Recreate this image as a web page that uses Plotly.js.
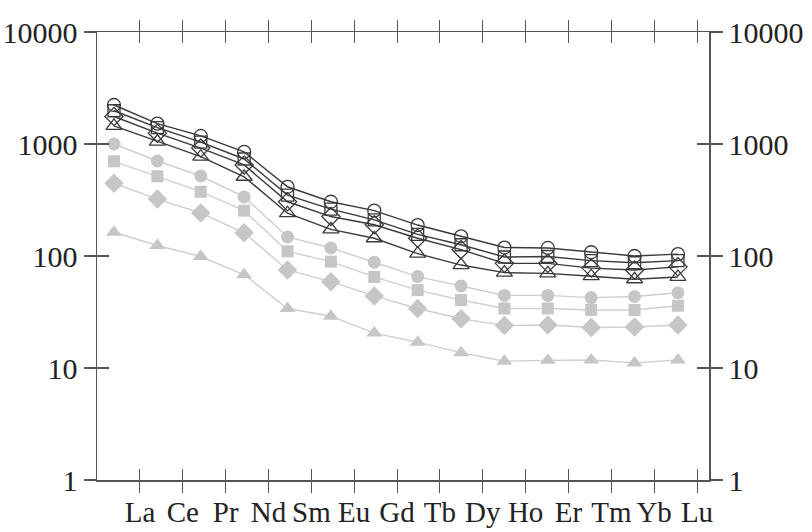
<!DOCTYPE html>
<html>
<head>
<meta charset="utf-8">
<script src="https://cdn.plot.ly/plotly-3.0.1.min.js"></script>
<style>html,body{margin:0;padding:0;background:#fff;}#chart{width:812px;height:532px;}</style>
</head>
<body>
<div id="chart"></div>
<script>
// Rare earth elements (categories)
var elements = ["La","Ce","Pr","Nd","Sm","Eu","Gd","Tb","Dy","Ho","Er","Tm","Yb","Lu"];
var yTickVals = [1, 10, 100, 1000, 10000];
var yTickText = ["1", "10", "100", "1000", "10000"];

// Dark series (open markers)
var darkCircle   = [2230, 1520, 1180, 850, 415, 305, 254, 189, 150, 119, 118, 108, 100, 104];
var darkSquare   = [1980, 1400, 1040, 735, 350, 262, 210, 156, 126, 98, 99, 91, 87, 91];
var darkDiamond  = [1760, 1250, 920, 650, 305, 225, 190, 144, 114, 86, 86, 78, 75, 80];
var darkTriangle = [1450, 1050, 770, 510, 241, 173, 144, 105, 83, 71, 70, 66, 62, 65];

// Gray series (filled markers)
var grayCircle   = [1000, 705, 518, 337, 148, 118, 88, 65.5, 54, 44.5, 44.5, 42.5, 43.5, 47];
var graySquare   = [700, 515, 375, 254, 110, 89, 65, 49.6, 40.5, 34, 34, 33, 33, 36];
var grayDiamond  = [446, 322, 242, 161, 75, 59, 44, 34, 27.5, 24, 24.2, 23, 23.2, 24.2];
var grayTriangle = [163, 124, 99, 68, 34, 29, 20.5, 17, 13.7, 11.5, 11.7, 11.8, 11.1, 11.8];

var idx = elements.map(function(_, i){ return i; });
var DARK = "#3a3a3a", GRAY = "#c6c6c6", GRAYLINE = "#cfcfcf";

function dark(y, sym, size) {
  return {x: idx, y: y, type: "scatter", mode: "lines+markers", xaxis: "x", yaxis: "y",
    line: {color: DARK, width: 1.4},
    marker: {symbol: sym, size: size, color: DARK, line: {color: DARK, width: 1.3}},
    hoverinfo: "skip", showlegend: false};
}
function gray(y, sym, size) {
  return {x: idx, y: y, type: "scatter", mode: "lines+markers", xaxis: "x", yaxis: "y",
    line: {color: GRAYLINE, width: 1.4},
    marker: {symbol: sym, size: size, color: GRAY, line: {width: 0}},
    hoverinfo: "skip", showlegend: false};
}
function dummy(xa, ya) {
  return {x: [null], y: [null], type: "scatter", mode: "markers", xaxis: xa, yaxis: ya,
    hoverinfo: "skip", showlegend: false};
}

var traces = [
  gray(grayTriangle, "triangle-up", 14),
  gray(grayDiamond, "diamond", 15),
  gray(graySquare, "square", 12),
  gray(grayCircle, "circle", 13),
  dark(darkTriangle, "triangle-up-open", 14),
  dark(darkDiamond, "diamond-open", 14),
  dark(darkSquare, "square-open", 12),
  dark(darkCircle, "circle-open", 13),
  dummy("x2", "y"), dummy("x3", "y"), dummy("x", "y2"), dummy("x", "y3")
];

var AX = "#555555";
var FONT = {family: "Liberation Serif, Times New Roman, serif", size: 30, color: "#222222"};
var XFONT = {family: "Liberation Serif, Times New Roman, serif", size: 29, color: "#222222"};

var layout = {
  width: 812, height: 532,
  margin: {l: 97, r: 103, t: 32, b: 52},
  paper_bgcolor: "#ffffff", plot_bgcolor: "#ffffff",
  showlegend: false,
  xaxis: {range: [-0.392, 13.716], visible: false, fixedrange: true},
  xaxis2: {overlaying: "x", anchor: "y", range: [-1.003, 13.28],
    tickmode: "array", tickvals: idx, ticktext: elements,
    ticks: "outside", ticklen: 11, tickwidth: 1, tickcolor: AX,
    showline: true, linecolor: AX, linewidth: 1.5, mirror: "ticks",
    ticklabelstandoff: -5,
    showgrid: false, zeroline: false, tickfont: XFONT},
  xaxis3: {overlaying: "x", anchor: "y", range: [-1.003, 13.28],
    tickmode: "array", tickvals: idx, showticklabels: false,
    ticks: "inside", ticklen: 11, tickwidth: 1, tickcolor: AX,
    showline: false, mirror: "ticks", showgrid: false, zeroline: false},
  yaxis: {type: "log", range: [0, 4], tickmode: "array", tickvals: yTickVals, ticktext: yTickText,
    ticks: "outside", ticklen: 12, tickwidth: 1.2, tickcolor: AX,
    showline: true, linecolor: AX, linewidth: 1.5,
    showgrid: false, zeroline: false, tickfont: FONT},
  yaxis2: {type: "log", range: [0, 4], overlaying: "y", side: "right", anchor: "x",
    tickmode: "array", tickvals: yTickVals, ticktext: yTickText,
    ticks: "outside", ticklen: 12, tickwidth: 1.2, tickcolor: AX,
    showline: true, linecolor: AX, linewidth: 1.5,
    showgrid: false, zeroline: false, tickfont: FONT},
  yaxis3: {type: "log", range: [0, 4], overlaying: "y", anchor: "x",
    tickmode: "array", tickvals: yTickVals, showticklabels: false,
    ticks: "inside", ticklen: 12, tickwidth: 1.2, tickcolor: AX, mirror: "ticks",
    showline: false, showgrid: false, zeroline: false}
};

Plotly.newPlot("chart", traces, layout, {staticPlot: true, displayModeBar: false});
</script>
</body>
</html>
